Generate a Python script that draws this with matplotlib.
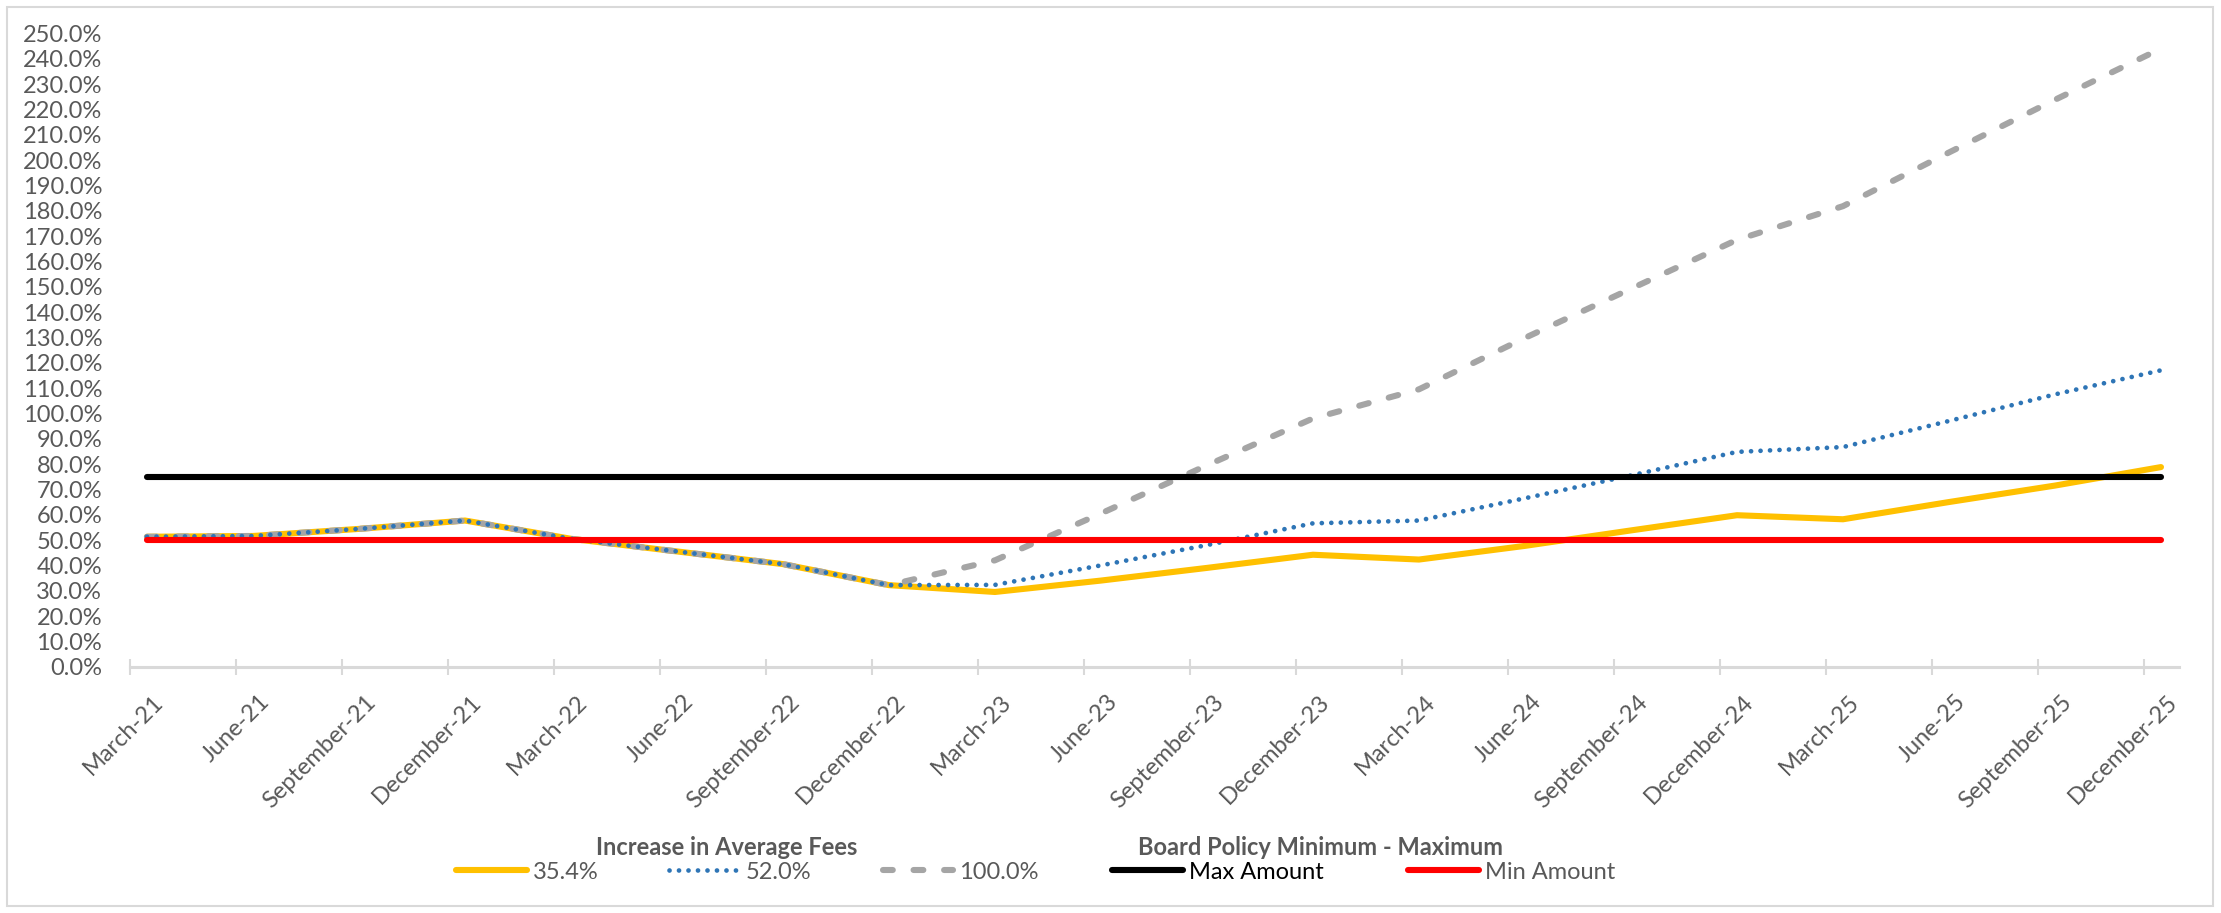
import numpy as np
import matplotlib
matplotlib.use("Agg")
import matplotlib.pyplot as plt
from matplotlib.patches import Rectangle
from matplotlib.ticker import FuncFormatter, MultipleLocator, NullFormatter
from matplotlib.transforms import ScaledTranslation

# ---------------- data ----------------
months = ["March-21", "June-21", "September-21", "December-21",
          "March-22", "June-22", "September-22", "December-22",
          "March-23", "June-23", "September-23", "December-23",
          "March-24", "June-24", "September-24", "December-24",
          "March-25", "June-25", "September-25", "December-25"]

fees_354 = [51.3, 51.6, 54.4, 57.7, 50.5, 45.5, 40.5, 32.2,
            29.5, 34.0, 39.0, 44.2, 42.3, 47.7, 53.8, 59.8,
            58.2, 65.0, 71.5, 78.8]
fees_520 = [51.3, 51.6, 54.4, 57.7, 50.5, 45.5, 40.5, 32.2,
            32.3, 40.0, 48.0, 56.6, 57.7, 66.5, 75.5, 84.8,
            86.7, 97.0, 107.5, 117.0]
fees_1000 = [51.3, 51.6, 54.4, 57.7, 50.5, 45.5, 40.5, 32.2,
             42.0, 60.5, 79.5, 98.0, 109.5, 129.8, 149.2, 168.5,
             181.8, 203.0, 223.8, 244.0]
max_amount = [75.0] * len(months)
min_amount = [50.0] * len(months)

fee_labels = ["35.4%", "52.0%", "100.0%"]
policy_labels = ["Max Amount", "Min Amount"]
group_titles = ["Increase in Average Fees", "Board Policy Minimum - Maximum"]

# ---------------- style ----------------
FONT = ["Lato", "DejaVu Sans"]
plt.rcParams["font.family"] = FONT
FS = 17
GRAY_TXT = "#595959"
W, H = 2221, 913

fig = plt.figure(figsize=(W / 100, H / 100), dpi=100)
fig.patch.set_facecolor("white")

# chart-area border
fig.add_artist(Rectangle((7 / W, 7 / H), (2213 - 7) / W, (906 - 7) / H,
                         transform=fig.transFigure, fill=False,
                         edgecolor="#D9D9D9", linewidth=1.5))

left, right = 130 / W, 2179 / W
bottom, top = (H - 666.7) / H, (H - 33.4) / H
ax = fig.add_axes([left, bottom, right - left, top - bottom])

tick_pos = np.arange(len(months))
x = tick_pos + 0.16

lw = 4.4
l1, = ax.plot(x, fees_354, color="#FFC000", lw=lw, solid_capstyle="round",
              solid_joinstyle="round", zorder=2)
l3, = ax.plot(x, fees_1000, color="#A5A5A5", lw=lw, linestyle=(0, (1.6, 3.4)),
              dash_capstyle="round", zorder=3)
l2, = ax.plot(x, fees_520, color="#2E75B6", lw=3.4, linestyle=(0, (0.01, 2.0)),
              dash_capstyle="round", zorder=4)
l4, = ax.plot(x, max_amount, color="black", lw=lw, solid_capstyle="round", zorder=5)
l5, = ax.plot(x, min_amount, color="#FF0000", lw=lw, solid_capstyle="round", zorder=6)

ax.set_xlim(0, 19.33)
ax.set_ylim(0, 250)
ax.yaxis.set_major_locator(MultipleLocator(10))
ax.yaxis.set_major_formatter(FuncFormatter(lambda v, p: f"{v:.1f}%"))
ax.set_xticks(tick_pos)
ax.xaxis.set_major_formatter(NullFormatter())

# rotated category labels, end of text just right of / below each tick
lab_tr = ax.get_xaxis_transform() + ScaledTranslation(30 / 100, -32 / 100,
                                                       fig.dpi_scale_trans)
for pos, m in zip(tick_pos, months):
    ax.text(pos, 0, m, transform=lab_tr, rotation=45, ha="right", va="center",
            rotation_mode="anchor", fontsize=FS, color=GRAY_TXT, clip_on=False)

for s in ["top", "right", "left"]:
    ax.spines[s].set_visible(False)
ax.spines["bottom"].set_color("#D9D9D9")
ax.spines["bottom"].set_linewidth(2.2)
ax.spines["bottom"].set_zorder(1)

ax.tick_params(axis="y", length=0, pad=20, labelsize=FS, labelcolor=GRAY_TXT)
ax.tick_params(axis="x", direction="inout", length=12, width=1.5,
               color="#D9D9D9")
ax.set_facecolor("none")

# legends
ly = (H - 872) / H
leg1 = fig.legend([l1, l2, l3], fee_labels, ncol=3,
                  loc="center left", bbox_to_anchor=(456 / W, ly),
                  frameon=False, fontsize=FS, handlelength=3.0,
                  handletextpad=0.25, columnspacing=3.0, borderpad=0,
                  borderaxespad=0)
for t in leg1.get_texts():
    t.set_color(GRAY_TXT)
leg2 = fig.legend([l4, l5], policy_labels, ncol=2,
                  loc="center left", bbox_to_anchor=(1112 / W, ly),
                  frameon=False, fontsize=FS, handlelength=3.0,
                  handletextpad=0.25, columnspacing=3.6, borderpad=0,
                  borderaxespad=0)
leg2.get_texts()[0].set_color("black")
leg2.get_texts()[1].set_color(GRAY_TXT)

fig.text(727 / W, (H - 847) / H, group_titles[0], ha="center", va="center",
         fontsize=FS, fontweight="bold", color=GRAY_TXT)
fig.text(1321 / W, (H - 847) / H, group_titles[1], ha="center", va="center",
         fontsize=FS, fontweight="bold", color=GRAY_TXT)

fig.savefig("out.png", dpi=100)
